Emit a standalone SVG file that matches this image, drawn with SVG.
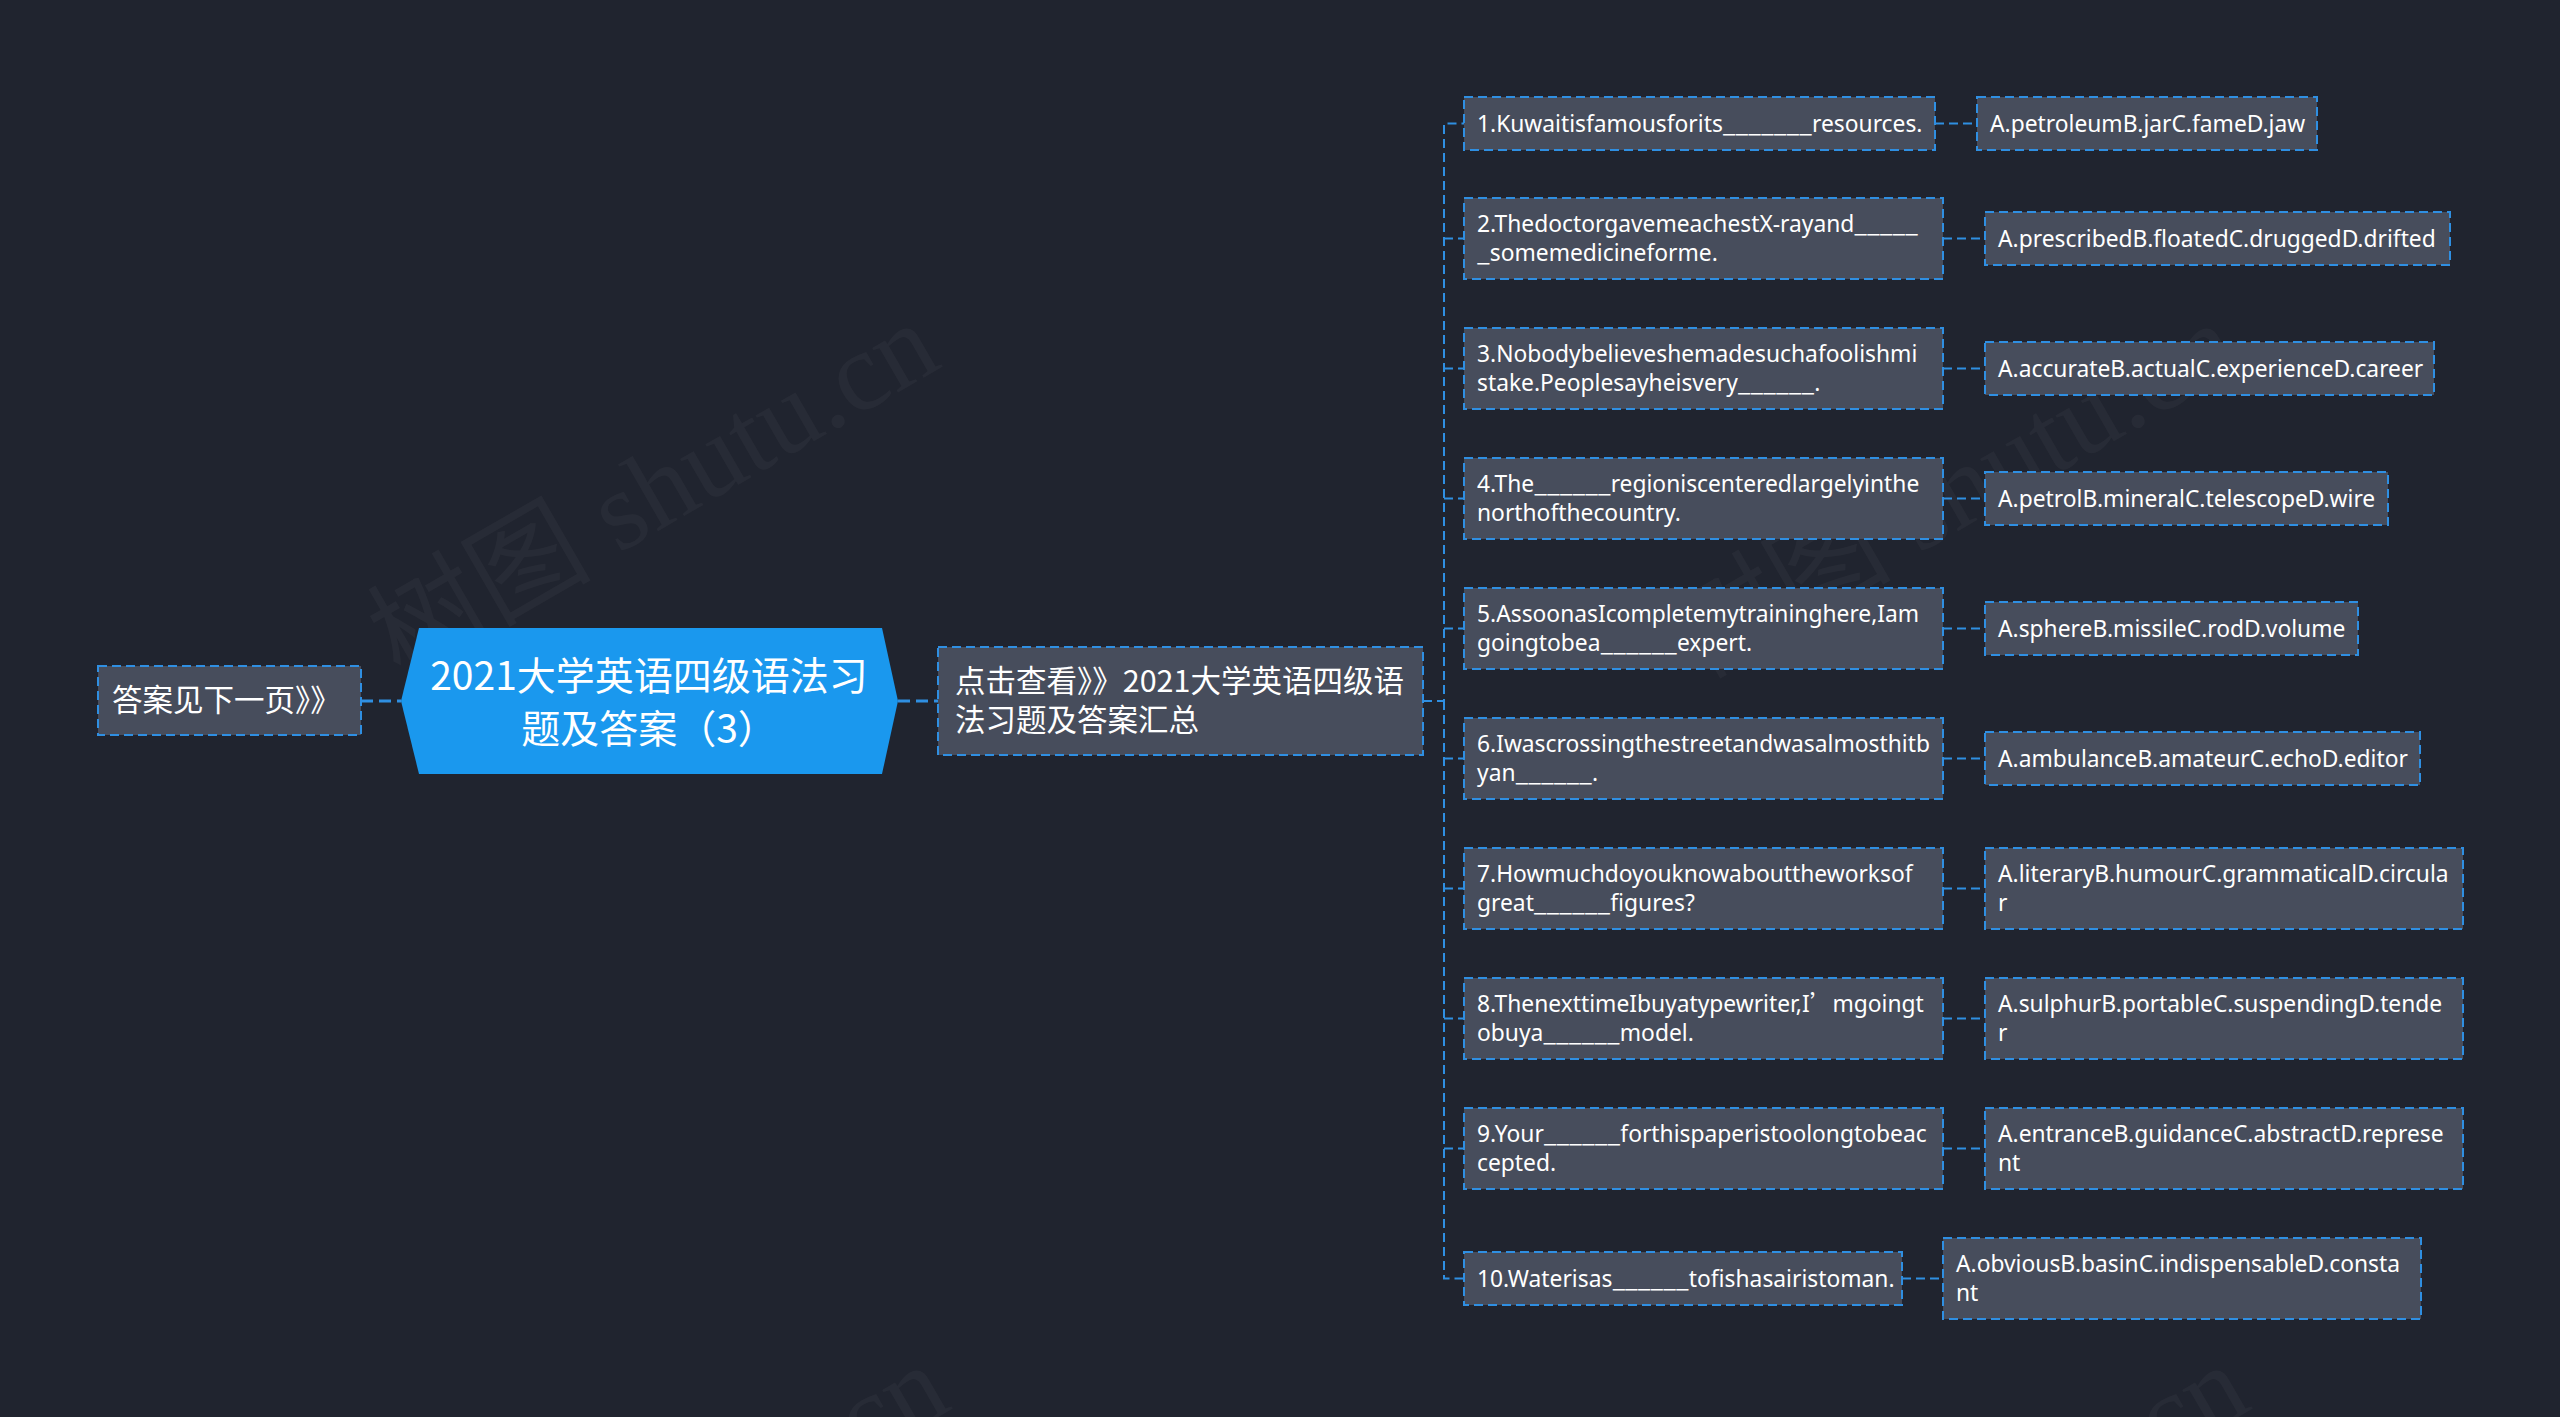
<svg xmlns="http://www.w3.org/2000/svg" width="2560" height="1417" viewBox="0 0 2560 1417">
<defs>
<style>
.bg{fill:#20242f}
.box{fill:#474d5c;stroke:#2f8fe2;stroke-width:2;stroke-dasharray:9 5}
.t{fill:#ffffff;font-family:"Noto Sans","Noto Sans CJK SC",sans-serif;font-size:22.8px}
.cjk{fill:#ffffff;font-family:"Noto Sans CJK SC",sans-serif;font-size:30.5px}
.root{fill:#ffffff;font-family:"Noto Sans CJK SC",sans-serif;font-size:39px;text-anchor:middle}
.c{fill:none;stroke:#2f8fe2;stroke-width:2;stroke-dasharray:9 5}
.c2{fill:none;stroke:#2f8fe2;stroke-width:3;stroke-dasharray:12 6}
.wm{fill:#ffffff;fill-opacity:0.035;font-family:"Liberation Serif","Noto Sans CJK SC",serif;font-size:112px}
.q{font-family:"Noto Sans CJK SC",sans-serif}
</style>
</defs>
<rect class="bg" x="0" y="0" width="2560" height="1417"/>
<g id="watermark">
<text class="wm" transform="translate(400,680) rotate(-30)">树图 shutu.cn</text>
<text class="wm" transform="translate(1700,680) rotate(-30)">树图 shutu.cn</text>
<text class="wm" transform="translate(410,1722) rotate(-30)">树图 shutu.cn</text>
<text class="wm" transform="translate(1710,1722) rotate(-30)">树图 shutu.cn</text>
</g>
<g id="connectors">
<path class="c2" d="M361,701 H401"/>
<path class="c2" d="M898,701 H938"/>
<path class="c" d="M1423,701 H1444 V123.5 H1464"/>
<path class="c" d="M1444,238.5 H1464"/>
<path class="c" d="M1444,368.5 H1464"/>
<path class="c" d="M1444,498.5 H1464"/>
<path class="c" d="M1444,628.5 H1464"/>
<path class="c" d="M1444,758.5 H1464"/>
<path class="c" d="M1444,888.5 H1464"/>
<path class="c" d="M1444,1018.5 H1464"/>
<path class="c" d="M1444,1148.5 H1464"/>
<path class="c" d="M1444,701 V1278.5 H1464"/>
<path class="c" d="M1935,123.5 H1977"/>
<path class="c" d="M1943,238.5 H1985"/>
<path class="c" d="M1943,368.5 H1985"/>
<path class="c" d="M1943,498.5 H1985"/>
<path class="c" d="M1943,628.5 H1985"/>
<path class="c" d="M1943,758.5 H1985"/>
<path class="c" d="M1943,888.5 H1985"/>
<path class="c" d="M1943,1018.5 H1985"/>
<path class="c" d="M1943,1148.5 H1985"/>
<path class="c" d="M1902,1278.5 H1943"/>
</g>
<g id="root">
<polygon points="419,628 882,628 898,701 882,774 419,774 401,701" fill="#1a98ee"/>
<text class="root" x="649" y="690">2021大学英语四级语法习</text>
<text class="root" x="649" y="743">题及答案（3）</text>
</g>
<g id="left-node">
<rect class="box" x="98" y="666" width="263" height="69"/>
<text class="cjk" x="112" y="711">答案见下一页》》</text>
</g>
<g id="summary-node">
<rect class="box" x="938" y="647" width="485" height="108"/>
<text class="cjk" x="955" y="692">点击查看》》2021大学英语四级语</text>
<text class="cjk" x="955" y="731">法习题及答案汇总</text>
</g>
<g id="q1"><rect class="box" x="1464" y="97" width="471" height="53"/><text class="t" x="1477" y="131.5">1.Kuwaitisfamousforits<tspan class="q">_______</tspan>resources.</text></g>
<g id="q2"><rect class="box" x="1464" y="198" width="479" height="81"/><text class="t" x="1477" y="231.5">2.ThedoctorgavemeachestX-rayand<tspan class="q">_____</tspan></text><text class="t" x="1477" y="261"><tspan class="q">_</tspan>somemedicineforme.</text></g>
<g id="q3"><rect class="box" x="1464" y="328" width="479" height="81"/><text class="t" x="1477" y="361.5">3.Nobodybelieveshemadesuchafoolishmi</text><text class="t" x="1477" y="391">stake.Peoplesayheisvery<tspan class="q">______</tspan>.</text></g>
<g id="q4"><rect class="box" x="1464" y="458" width="479" height="81"/><text class="t" x="1477" y="491.5">4.The<tspan class="q">______</tspan>regioniscenteredlargelyinthe</text><text class="t" x="1477" y="521">northofthecountry.</text></g>
<g id="q5"><rect class="box" x="1464" y="588" width="479" height="81"/><text class="t" x="1477" y="621.5">5.AssoonasIcompletemytraininghere,Iam</text><text class="t" x="1477" y="651">goingtobea<tspan class="q">______</tspan>expert.</text></g>
<g id="q6"><rect class="box" x="1464" y="718" width="479" height="81"/><text class="t" x="1477" y="751.5">6.Iwascrossingthestreetandwasalmosthitb</text><text class="t" x="1477" y="781">yan<tspan class="q">______</tspan>.</text></g>
<g id="q7"><rect class="box" x="1464" y="848" width="479" height="81"/><text class="t" x="1477" y="881.5">7.Howmuchdoyouknowabouttheworksof</text><text class="t" x="1477" y="911">great<tspan class="q">______</tspan>figures?</text></g>
<g id="q8"><rect class="box" x="1464" y="978" width="479" height="81"/><text class="t" x="1477" y="1011.5">8.ThenexttimeIbuyatypewriter,I<tspan class="q">’</tspan>mgoingt</text><text class="t" x="1477" y="1041">obuya<tspan class="q">______</tspan>model.</text></g>
<g id="q9"><rect class="box" x="1464" y="1108" width="479" height="81"/><text class="t" x="1477" y="1141.5">9.Your<tspan class="q">______</tspan>forthispaperistoolongtobeac</text><text class="t" x="1477" y="1171">cepted.</text></g>
<g id="q10"><rect class="box" x="1464" y="1252" width="438" height="53"/><text class="t" x="1477" y="1286.5">10.Waterisas<tspan class="q">______</tspan>tofishasairistoman.</text></g>
<g id="a1"><rect class="box" x="1977" y="97" width="340" height="53"/><text class="t" x="1990" y="131.5">A.petroleumB.jarC.fameD.jaw</text></g>
<g id="a2"><rect class="box" x="1985" y="212" width="465" height="53"/><text class="t" x="1998" y="246.5">A.prescribedB.floatedC.druggedD.drifted</text></g>
<g id="a3"><rect class="box" x="1985" y="342" width="449" height="53"/><text class="t" x="1998" y="376.5">A.accurateB.actualC.experienceD.career</text></g>
<g id="a4"><rect class="box" x="1985" y="472" width="403" height="53"/><text class="t" x="1998" y="506.5">A.petrolB.mineralC.telescopeD.wire</text></g>
<g id="a5"><rect class="box" x="1985" y="602" width="373" height="53"/><text class="t" x="1998" y="636.5">A.sphereB.missileC.rodD.volume</text></g>
<g id="a6"><rect class="box" x="1985" y="732" width="435" height="53"/><text class="t" x="1998" y="766.5">A.ambulanceB.amateurC.echoD.editor</text></g>
<g id="a7"><rect class="box" x="1985" y="848" width="478" height="81"/><text class="t" x="1998" y="881.5">A.literaryB.humourC.grammaticalD.circula</text><text class="t" x="1998" y="911">r</text></g>
<g id="a8"><rect class="box" x="1985" y="978" width="478" height="81"/><text class="t" x="1998" y="1011.5">A.sulphurB.portableC.suspendingD.tende</text><text class="t" x="1998" y="1041">r</text></g>
<g id="a9"><rect class="box" x="1985" y="1108" width="478" height="81"/><text class="t" x="1998" y="1141.5">A.entranceB.guidanceC.abstractD.represe</text><text class="t" x="1998" y="1171">nt</text></g>
<g id="a10"><rect class="box" x="1943" y="1238" width="478" height="81"/><text class="t" x="1956" y="1271.5">A.obviousB.basinC.indispensableD.consta</text><text class="t" x="1956" y="1301">nt</text></g>
</svg>
